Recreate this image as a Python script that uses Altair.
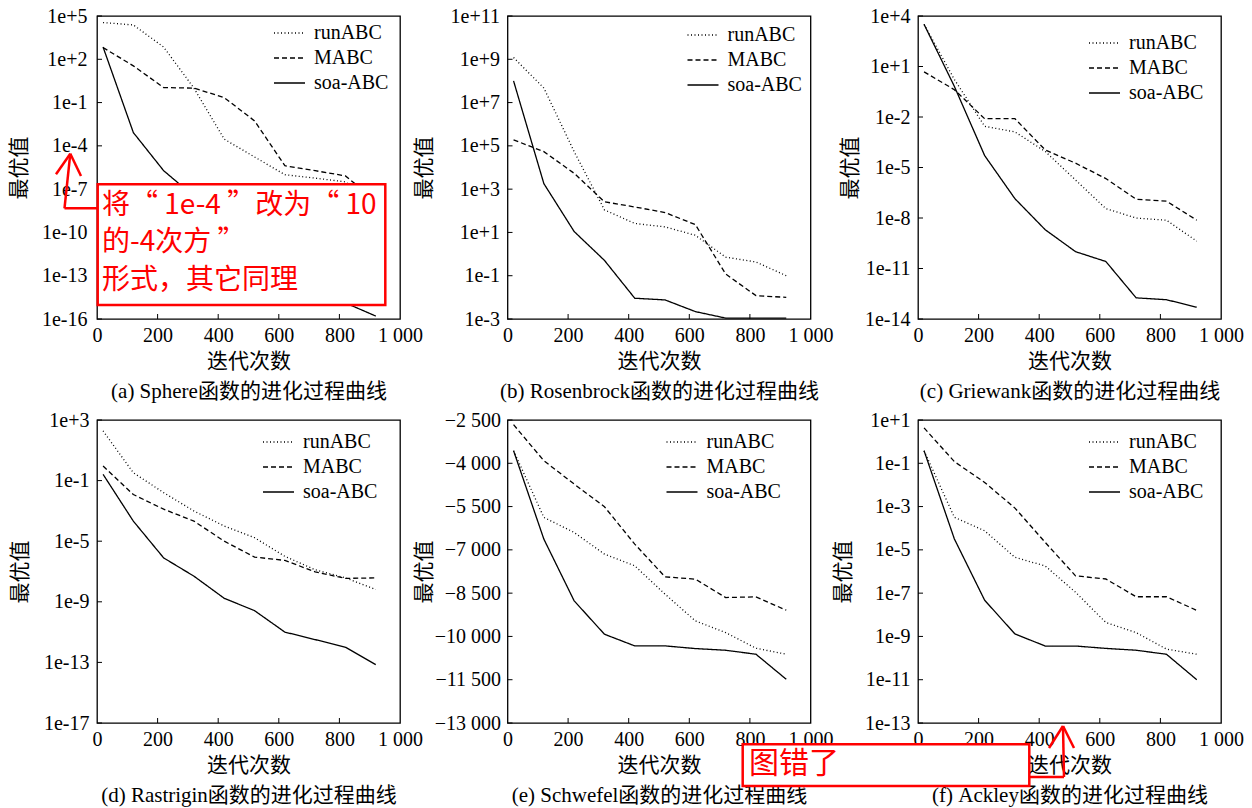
import altair as alt
import pandas as pd

ITERS = [20, 120, 220, 320, 420, 520, 620, 720, 820, 920]
SERIES = ["runABC", "MABC", "soa-ABC"]
DASHES = [[1, 2.5], [5, 3], [1, 0]]
X_TICKS = [0, 200, 400, 600, 800, 1000]
X_INNER_TICKS = [200, 400, 600, 800]

# (a) Sphere
sphere_run = [3.5e4, 2.4e4, 7.0e2, 1.0e0, 2.9e-4, 1.7e-5, 1.0e-6, 5.8e-7, 3.2e-7, 1.0e-8]
sphere_mabc = [6.5e2, 3.5e1, 1.1e0, 1.0e0, 2.2e-1, 5.4e-3, 4.2e-6, 1.9e-6, 8.3e-7, 1.6e-8]
sphere_soa = [7.1e2, 8.3e-4, 1.9e-6, 3.2e-8, 1.0e-9, 3.2e-11, 1.0e-12, 3.2e-14, 1.3e-15, 1.6e-16]
sphere_ticks = [1e5, 1e2, 1e-1, 1e-4, 1e-7, 1e-10, 1e-13, 1e-16]

# (b) Rosenbrock
rosen_run = [1.2e9, 4.7e7, 5.4e4, 1.1e2, 2.6e1, 1.8e1, 7.4e0, 7.2e-1, 4.3e-1, 1.0e-1]
rosen_mabc = [1.9e5, 5.4e4, 5.4e3, 2.6e2, 1.5e2, 8.3e1, 2.3e1, 1.2e-1, 1.2e-2, 1.0e-2]
rosen_soa = [1.0e8, 1.8e3, 1.1e1, 5.1e-1, 9.1e-3, 7.6e-3, 2.2e-3, 1.1e-3, 1.1e-3, 1.1e-3]
rosen_ticks = [1e11, 1e9, 1e7, 1e5, 1e3, 1e1, 1e-1, 1e-3]

# (c) Griewank
griew_run = [3.2e3, 1.7e0, 2.8e-3, 1.3e-3, 8.9e-5, 1.8e-6, 3.6e-8, 1.0e-8, 7.4e-9, 4.2e-10]
griew_mabc = [4.8e0, 4.2e-1, 7.9e-3, 7.9e-3, 1.1e-4, 1.8e-5, 2.2e-6, 1.3e-7, 1.0e-7, 7.4e-9]
griew_soa = [3.2e3, 6.6e-1, 5.1e-5, 1.4e-7, 2.0e-9, 1.0e-10, 2.6e-11, 1.8e-13, 1.4e-13, 5.0e-14]
griew_ticks = [1e4, 1e1, 1e-2, 1e-5, 1e-8, 1e-11, 1e-14]

# (d) Rastrigin
rast_run = [1.9e2, 3.3e-1, 1.6e-2, 9.8e-4, 1.0e-4, 1.7e-5, 1.0e-6, 1.3e-7, 3.8e-8, 6.5e-9]
rast_mabc = [9.1e-1, 1.2e-2, 1.3e-3, 2.1e-4, 1.0e-5, 8.9e-7, 5.4e-7, 9.5e-8, 3.5e-8, 3.8e-8]
rast_soa = [2.6e-1, 2.1e-4, 7.9e-7, 4.9e-8, 1.7e-9, 2.6e-10, 1.0e-11, 3.2e-12, 1.0e-12, 7.1e-14]
rast_ticks = [1e3, 1e-1, 1e-5, 1e-9, 1e-13, 1e-17]

# (e) Schwefel
schw_run = [-3564, -5876, -6397, -7148, -7553, -8536, -9461, -9866, -10409, -10617]
schw_mabc = [-2662, -3911, -4720, -5506, -6801, -7935, -8016, -8652, -8629, -9091]
schw_soa = [-3564, -6628, -8767, -9924, -10328, -10328, -10421, -10479, -10617, -11485]
schw_ticks = [-2500, -4000, -5500, -7000, -8500, -10000, -11500, -13000]

# (f) Ackley
ack_run = [3.8e-1, 3.2e-4, 7.6e-5, 4.5e-6, 1.8e-6, 1.1e-7, 4.4e-9, 1.5e-9, 2.6e-10, 1.5e-10]
ack_mabc = [4.3e0, 1.2e-1, 1.3e-2, 8.5e-4, 2.2e-5, 6.3e-7, 4.5e-7, 6.8e-8, 6.8e-8, 1.6e-8]
ack_soa = [3.8e-1, 3.2e-5, 4.7e-8, 1.3e-9, 3.6e-10, 3.6e-10, 2.8e-10, 2.3e-10, 1.5e-10, 1.0e-11]
ack_ticks = [1e1, 1e-1, 1e-3, 1e-5, 1e-7, 1e-9, 1e-11, 1e-13]

W = 303
H = 303
SERIF = "Liberation Serif, Times New Roman, Noto Sans CJK SC"
SANS_CJK = "Noto Sans CJK SC"
RED = "#ff0000"
ONE = pd.DataFrame({"k": [0]})

PANELS = [
    dict(cap="(a) Sphere函数的进化过程曲线", run=sphere_run, mabc=sphere_mabc, soa=sphere_soa,
         log=True, dom=[1e-16, 1e5], ticks=sphere_ticks, tx=-78, lp=10, lx=176, ly=7),
    dict(cap="(b) Rosenbrock函数的进化过程曲线", run=rosen_run, mabc=rosen_mabc, soa=rosen_soa,
         log=True, dom=[1e-3, 1e11], ticks=rosen_ticks, tx=-83, lp=8, lx=179, ly=9),
    dict(cap="(c) Griewank函数的进化过程曲线", run=griew_run, mabc=griew_mabc, soa=griew_soa,
         log=True, dom=[1e-14, 1e4], ticks=griew_ticks, tx=-68, lp=8, lx=170, ly=17),
    dict(cap="(d) Rastrigin函数的进化过程曲线", run=rast_run, mabc=rast_mabc, soa=rast_soa,
         log=True, dom=[1e-17, 1e3], ticks=rast_ticks, tx=-77, lp=8, lx=165, ly=12),
    dict(cap="(e) Schwefel函数的进化过程曲线", run=schw_run, mabc=schw_mabc, soa=schw_soa,
         log=False, dom=[-13000, -2500], ticks=schw_ticks, tx=-83, lp=7, lx=158, ly=12),
    dict(cap="(f) Ackley函数的进化过程曲线", run=ack_run, mabc=ack_mabc, soa=ack_soa,
         log=True, dom=[1e-13, 1e1], ticks=ack_ticks, tx=-75, lp=8, lx=170, ly=12),
]

ANN_A = ["将“ 1e-4 ”改为“ 10", "的-4次方 ”", "形式，其它同理"]
ANN_F = "图错了"


def seg(x1, y1, x2, y2):
    return alt.Chart(ONE).mark_rule(color=RED, strokeWidth=2.5).encode(
        x=alt.value(x1), y=alt.value(y1), x2=alt.value(x2), y2=alt.value(y2))


def box(x1, y1, x2, y2):
    return alt.Chart(ONE).mark_rect(fill="white", stroke=RED, strokeWidth=2.5).encode(
        x=alt.value(x1), x2=alt.value(x2), y=alt.value(y1), y2=alt.value(y2))


def label(x, y, s, size):
    return alt.Chart(ONE).mark_text(align="left", baseline="middle", font=SANS_CJK,
                                    fontSize=size, color=RED).encode(
        x=alt.value(x), y=alt.value(y), text=alt.value(s))


def annotations_a():
    layers = [box(0.7, 168.3, 288.3, 289)]
    for i, s in enumerate(ANN_A):
        layers.append(label(5, [190, 226.7, 265][i], s, 28))
    layers += [seg(-26.7, 137.7, -32.5, 192.3), seg(-32.5, 192.3, 1, 192.3),
               seg(-41, 158.3, -26.7, 137.7), seg(-16, 160, -26.7, 137.7)]
    return layers


def annotations_f():
    return [box(-175.3, 324.3, 111.3, 366), label(-169, 344, ANN_F, 30),
            seg(111.3, 357, 146, 357), seg(146, 357, 145, 306),
            seg(131, 328, 145, 306), seg(156, 328, 145, 306)]


def make_panel(p, extra):
    df = pd.DataFrame({
        "x": ITERS * 3,
        "value": p["run"] + p["mabc"] + p["soa"],
        "series": [s for s in SERIES for _ in ITERS],
    })
    if p["log"]:
        yscale = alt.Scale(type="log", domain=p["dom"], nice=False)
        lexpr = "format(datum.value, '.0e')"
    else:
        yscale = alt.Scale(type="linear", domain=p["dom"], nice=False, zero=False)
        lexpr = "replace(format(datum.value, ','), ',', ' ')"
    yaxis = alt.Axis(values=p["ticks"], labelExpr=lexpr, labelFont=SERIF, labelFontSize=20,
                     labelColor="black", labelPadding=p["lp"], ticks=False, tickSize=0,
                     domain=False, grid=False, title="最优值", titleFont=SERIF, titleFontSize=21,
                     titleFontWeight="normal", titleColor="black", titleAngle=270,
                     titleAlign="center", titleBaseline="middle", titleX=p["tx"], titleY=H / 2)
    xaxis = alt.Axis(values=X_TICKS, labelExpr="replace(format(datum.value, ','), ',', ' ')",
                     labelFlush=False, labelFont=SERIF, labelFontSize=20, labelColor="black",
                     labelPadding=6, ticks=False, tickSize=0, domain=False,
                     grid=False, title=["迭代次数", p["cap"]], titleFont=SERIF, titleFontSize=21,
                     titleFontWeight="normal", titleColor="black", titleX=W / 2, titleY=48,
                     titleAlign="center", titleBaseline="alphabetic", titleLineHeight=30)
    xs = alt.Scale(domain=[0, 1000], nice=False, zero=False)

    def X(f):
        return alt.X(f"{f}:Q", scale=xs, axis=xaxis)

    def Y(f):
        return alt.Y(f"{f}:Q", scale=yscale, axis=yaxis)

    legend = alt.Legend(title=None, orient="none", legendX=p["lx"], legendY=p["ly"],
                        symbolType="stroke", symbolSize=961, symbolStrokeWidth=1.3,
                        symbolStrokeColor="black", labelFont=SERIF, labelFontSize=20,
                        labelColor="black", labelOffset=8, rowPadding=5, clipHeight=20,
                        padding=0, labelLimit=0)
    lines = alt.Chart(df).mark_line(color="black", strokeWidth=1.3).encode(
        x=X("x"), y=Y("value"),
        strokeDash=alt.StrokeDash("series:N", scale=alt.Scale(domain=SERIES, range=DASHES),
                                  legend=legend, sort=SERIES))
    ytick = alt.Chart(pd.DataFrame({"value": p["ticks"]})).mark_rule(
        color="black", strokeWidth=1).encode(y=Y("value"), x=alt.value(0), x2=alt.value(5))
    xtick = alt.Chart(pd.DataFrame({"x": X_INNER_TICKS})).mark_rule(
        color="black", strokeWidth=1).encode(x=X("x"), y=alt.value(H), y2=alt.value(H - 5))
    return alt.layer(lines, ytick, xtick, *extra).properties(width=W, height=H)


charts = []
for i, p in enumerate(PANELS):
    extra = annotations_a() if i == 0 else (annotations_f() if i == 5 else [])
    charts.append(make_panel(p, extra))

chart = alt.concat(*charts, columns=3, spacing={"row": 101, "column": 107.5}, bounds="flush",
                   padding={"left": 7, "top": 5, "right": 5, "bottom": 5}) \
    .resolve_scale(strokeDash="independent") \
    .resolve_legend(strokeDash="independent") \
    .configure_view(stroke="black", strokeWidth=1.3) \
    .properties(background="white")

chart.save("out.html", embed_options={"renderer": "svg", "actions": False})
